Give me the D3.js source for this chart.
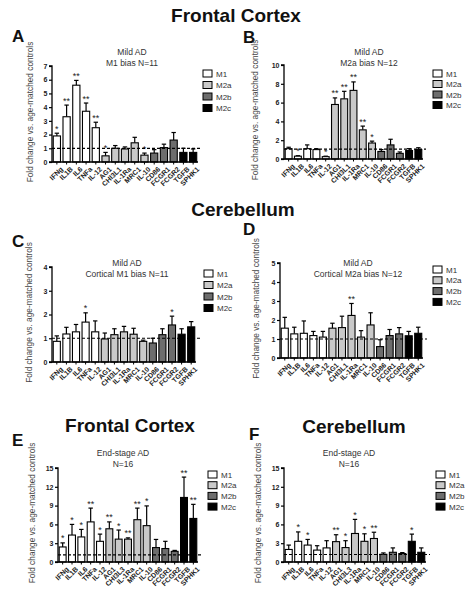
<!DOCTYPE html>
<html><head><meta charset="utf-8">
<script src="https://cdn.jsdelivr.net/npm/d3@7"></script>
<style>body{margin:0;background:#fff}svg{display:block;font-family:"Liberation Sans",Arial,sans-serif}</style>
</head><body><svg id="c" width="476" height="600"></svg>
<script>
// ---------- DATA ----------
const genesMild = ["IFNg","IL1B","IL6","TNFa","IL-12","AG1","CHI3L1","IL-1Ra","MRC1","IL-10","CD86","FCGR1","FCGR2","TGFB","SPHK1"];
const genesEnd  = ["IFNg","IL1B","IL6","TNFa","IL-12","AG1","CHI3L3","IL-1Ra","MRC1","IL-10","CD86","FCGR1","FCGR2","TGFB","SPHK1"];
const geneGroup = ["M1","M1","M1","M1","M1","M2a","M2a","M2a","M2a","M2a","M2b","M2b","M2b","M2c","M2c"];
const legendLabels = ["M1","M2a","M2b","M2c"];

const valuesA = [1.9,3.3,5.6,3.7,2.5,0.45,1.0,0.95,1.4,0.5,0.65,1.05,1.6,0.7,0.7];
const errorsA = [2.1,4.15,5.95,4.3,2.9,0.7,1.2,1.1,1.8,0.65,0.9,1.3,2.15,1.0,0.95];
const starsA  = ["*","**","**","**","**","*","","","","*","","","","",""];

const valuesB = [1.1,0.3,1.1,1.0,0.25,5.8,6.4,7.3,3.1,1.7,0.8,1.5,0.6,0.9,1.0];
const errorsB = [1.25,0.35,1.5,1.1,0.3,6.5,7.2,8.2,3.5,1.9,1.0,2.1,0.75,1.1,1.2];
const starsB  = ["","*","","","*","**","**","**","**","*","","","","",""];

const valuesC = [0.87,1.18,1.27,1.68,1.27,0.97,1.15,1.27,1.17,0.87,0.8,1.15,1.56,1.17,1.48];
const errorsC = [1.1,1.46,1.58,2.07,1.73,1.22,1.4,1.5,1.42,0.92,1.0,1.4,1.93,1.4,1.7];
const starsC  = ["","","","*","","","","","","","","","*","",""];

const valuesD = [1.57,1.27,1.3,1.18,1.1,1.57,1.6,2.24,1.1,1.74,0.6,1.18,1.27,1.17,1.3];
const errorsD = [2.14,1.62,1.95,1.4,1.4,1.83,2.2,2.87,1.44,2.38,0.96,1.5,1.6,1.4,1.62];
const starsD  = ["","","","","","","","**","","","","","","",""];

const valuesE = [2.4,4.3,4.0,6.4,3.3,5.3,3.65,3.65,6.75,5.8,2.3,2.15,1.7,10.3,6.95];
const errorsE = [3.05,6.0,5.2,8.6,4.45,6.4,5.1,3.85,8.6,8.95,3.6,3.3,1.85,13.55,9.2];
const starsE  = ["*","*","*","**","*","**","*","**","**","*","","","","**","**"];

const valuesF = [2.0,3.3,2.7,1.9,2.25,3.25,2.3,4.55,3.3,3.75,1.23,1.55,1.35,3.3,1.55];
const errorsF = [2.7,4.8,3.6,2.6,3.4,4.35,3.4,6.8,4.5,4.75,1.45,2.25,1.5,4.45,2.25];
const starsF  = ["","*","*","","","**","*","*","*","**","","","","*",""];

const ticksA = [0,1,2,3,4,5,6,7];
const ticksB = [0,2,4,6,8,10];
const ticksC = [0,1,2,3,4];
const ticksD = [0,1,2,3,4,5];
const ticksEF = [0,3,6,9,12,15];

// ---------- STYLE / LAYOUT ----------
const fills = {M1:"#ffffff", M2a:"#c9c9c9", M2b:"#6d6d6d", M2c:"#000000"};
const yLabel = "Fold change vs. age-matched controls";

const panels = [
  {letter:"A", lx:12, ly:42, genes:genesMild, vals:valuesA, errs:errorsA, stars:starsA, ticks:ticksA, ymax:7, dash:1,
   x0:52, x1:198, y0:162, y1:66, t1:"Mild AD", t2:"M1 bias N=11", tx:132, ty:55, legX:203, legY:70, legDy:11.5, ylx:33, dashEnd:202},
  {letter:"B", lx:243, ly:43, genes:genesMild, vals:valuesB, errs:errorsB, stars:starsB, ticks:ticksB, ymax:10, dash:1.05,
   x0:284, x1:423, y0:159, y1:65, t1:"Mild AD", t2:"M2a bias N=12", tx:369, ty:55, legX:433, legY:70, legDy:10.5, ylx:258, dashEnd:426},
  {letter:"C", lx:12, ly:247, genes:genesMild, vals:valuesC, errs:errorsC, stars:starsC, ticks:ticksC, ymax:4, dash:1,
   x0:52, x1:196, y0:362, y1:267, t1:"Mild AD", t2:"Cortical M1 bias N=11", tx:127, ty:266, legX:204, legY:270, legDy:11.5, ylx:32, dashEnd:201},
  {letter:"D", lx:243, ly:235, genes:genesMild, vals:valuesD, errs:errorsD, stars:starsD, ticks:ticksD, ymax:5, dash:1,
   x0:280, x1:423, y0:358, y1:263, t1:"Mild AD", t2:"Cortical M2a bias N=12", tx:358, ty:266, legX:433, legY:266, legDy:10.8, ylx:259, dashEnd:427},
  {letter:"E", lx:12, ly:446, genes:genesEnd, vals:valuesE, errs:errorsE, stars:starsE, ticks:ticksEF, ymax:15, dash:1.15,
   x0:58, x1:198, y0:562, y1:468, t1:"End-stage AD", t2:"N=16", tx:123, ty:456, legX:208, legY:471, legDy:10.7, ylx:35, dashEnd:203},
  {letter:"F", lx:249, ly:440, genes:genesEnd, vals:valuesF, errs:errorsF, stars:starsF, ticks:ticksEF, ymax:15, dash:1.2,
   x0:284, x1:426, y0:562, y1:468, t1:"End-stage AD", t2:"N=16", tx:349, ty:456, legX:436, legY:471, legDy:10.7, ylx:261, dashEnd:430}
];

const sections = [
  {text:"Frontal Cortex", x:236, y:22},
  {text:"Cerebellum", x:243, y:216},
  {text:"Frontal Cortex", x:130, y:432},
  {text:"Cerebellum", x:354, y:433}
];

const svg = d3.select("#c");

sections.forEach(s => {
  svg.append("text").attr("x", s.x).attr("y", s.y).attr("text-anchor","middle")
    .attr("font-size", 19).attr("font-weight","bold").attr("fill","#111").text(s.text);
});

panels.forEach(p => {
  const g = svg.append("g");
  g.append("text").attr("x", p.lx).attr("y", p.ly).attr("font-size", 17).attr("font-weight","bold").attr("fill","#111").text(p.letter);

  const x = d3.scaleBand().domain(p.genes).range([p.x0, p.x1]).paddingInner(0.26).paddingOuter(0.13);
  const y = d3.scaleLinear().domain([0, p.ymax]).range([p.y0, p.y1]);

  // titles
  g.append("text").attr("x", p.tx).attr("y", p.ty).attr("text-anchor","middle").attr("font-size", 8.5).attr("fill","#333").text(p.t1);
  g.append("text").attr("x", p.tx).attr("y", p.ty + 10.5).attr("text-anchor","middle").attr("font-size", 8.5).attr("fill","#333").text(p.t2);

  // y label
  g.append("text").attr("transform", `translate(${p.ylx},${(p.y0 + p.y1) / 2 - 2}) rotate(-90)`)
    .attr("text-anchor","middle").attr("font-size", 8.3).attr("fill","#444").text(yLabel);

  // bars
  const data = p.genes.map((gname, i) => ({g: gname, v: p.vals[i], e: p.errs[i], s: p.stars[i], grp: geneGroup[i]}));
  const cx = d => x(d.g) + x.bandwidth() / 2;

  // error bars
  g.selectAll(".err").data(data).join("line")
    .attr("x1", cx).attr("x2", cx).attr("y1", d => y(d.v)).attr("y2", d => y(d.e))
    .attr("stroke","#000").attr("stroke-width",1.2);
  g.selectAll(".cap").data(data).join("line")
    .attr("x1", d => cx(d) - 2.2).attr("x2", d => cx(d) + 2.2).attr("y1", d => y(d.e)).attr("y2", d => y(d.e))
    .attr("stroke","#000").attr("stroke-width",1.2);

  g.selectAll(".bar").data(data).join("rect")
    .attr("x", d => x(d.g)).attr("width", x.bandwidth())
    .attr("y", d => y(d.v)).attr("height", d => y(0) - y(d.v))
    .attr("fill", d => fills[d.grp]).attr("stroke","#000").attr("stroke-width",1.1);

  // stars
  g.selectAll(".star").data(data.filter(d => d.s)).join("text")
    .attr("x", cx).attr("y", d => y(d.e) - 1.5).attr("text-anchor","middle")
    .attr("font-size", 9).attr("fill","#222").text(d => d.s);

  // dashed reference line
  g.append("line").attr("x1", p.x0).attr("x2", p.dashEnd).attr("y1", y(p.dash)).attr("y2", y(p.dash))
    .attr("stroke","#000").attr("stroke-width",1.2).attr("stroke-dasharray","3,2");

  // axes
  const yAxis = d3.axisLeft(y).tickValues(p.ticks).tickSize(3).tickPadding(1.5).tickFormat(d3.format("d"));
  const ya = g.append("g").attr("transform", `translate(${p.x0},0)`).call(yAxis);
  ya.select(".domain").attr("stroke-width",1.3).attr("d", `M-3,${p.y1}H0V${p.y0}H-3`);
  ya.selectAll(".tick line").attr("stroke-width",1.2);
  ya.selectAll("text").attr("font-size", 7).attr("font-weight","bold").attr("fill","#222").attr("font-family","'Liberation Sans',Arial,sans-serif");

  const xAxis = d3.axisBottom(x).tickSize(2.5).tickPadding(2);
  const xa = g.append("g").attr("transform", `translate(0,${p.y0})`).call(xAxis);
  xa.select(".domain").attr("stroke-width",1.3).attr("d", `M${p.x0},0H${p.x1}`);
  xa.selectAll(".tick line").attr("stroke-width",1);
  xa.selectAll("text").attr("font-size", 7).attr("font-weight","bold").attr("fill","#222")
    .attr("font-family","'Liberation Sans',Arial,sans-serif")
    .attr("text-anchor","end").attr("dy","0.3em")
    .attr("transform","translate(2,3) rotate(-45)");

  // legend
  legendLabels.forEach((l, i) => {
    const ly = p.legY + i * p.legDy;
    g.append("rect").attr("x", p.legX).attr("y", ly).attr("width", 9).attr("height", 7)
      .attr("fill", fills[l]).attr("stroke","#000").attr("stroke-width",1);
    g.append("text").attr("x", p.legX + 13).attr("y", ly + 6.5).attr("font-size", 8).attr("fill","#333").text(l);
  });
});
</script></body></html>
